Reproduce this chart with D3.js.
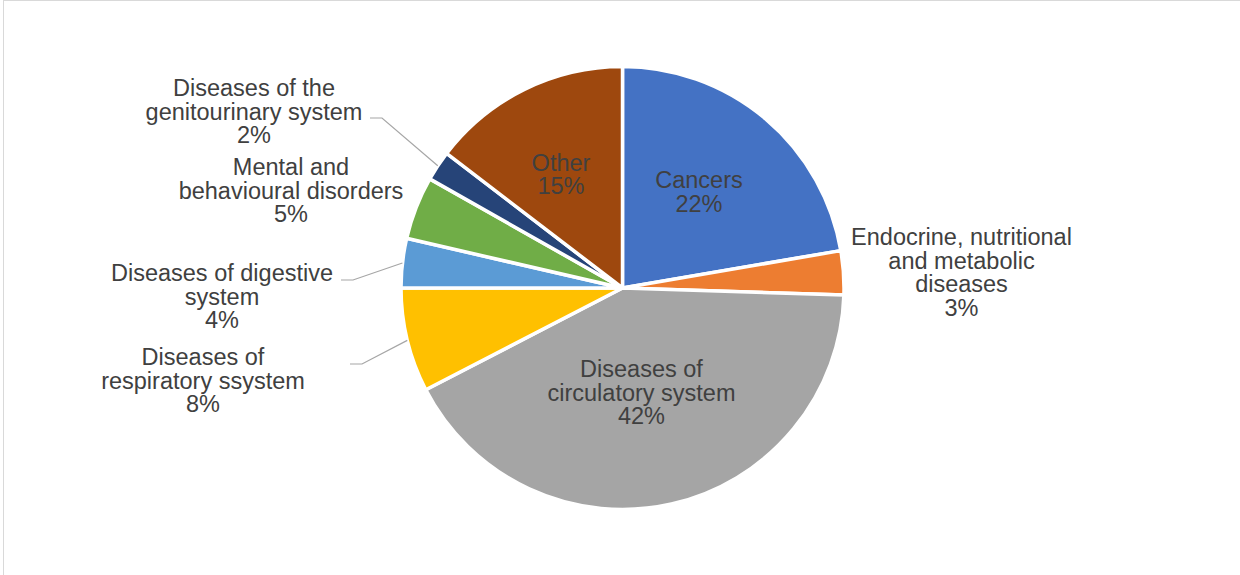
<!DOCTYPE html>
<html>
<head>
<meta charset="utf-8">
<script src="https://cdn.jsdelivr.net/npm/d3@7"></script>
<style>
  html, body { margin: 0; padding: 0; background: #ffffff; }
  svg { display: block; }
  text { font-family: "Liberation Sans", Arial, Helvetica, sans-serif; }
</style>
</head>
<body>
<svg id="chart" width="1240" height="575"></svg>
<script>
// ---- data ----
const categories = [
  "Cancers",
  "Endocrine, nutritional and metabolic diseases",
  "Diseases of circulatory system",
  "Diseases of respiratory ssystem",
  "Diseases of digestive system",
  "Mental and behavioural disorders",
  "Diseases of the genitourinary system",
  "Other"
];
const values = [22.3, 3.2, 41.9, 7.6, 3.6, 4.6, 2.2, 14.6];
const labelLines = [
  ["Cancers"],
  ["Endocrine, nutritional", "and metabolic", "diseases"],
  ["Diseases of", "circulatory system"],
  ["Diseases of", "respiratory ssystem"],
  ["Diseases of digestive", "system"],
  ["Mental and", "behavioural disorders"],
  ["Diseases of the", "genitourinary system"],
  ["Other"]
];
const colors = ["#4472C4", "#ED7D31", "#A5A5A5", "#FFC000", "#5B9BD5", "#70AD47", "#264478", "#9E480E"];

// ---- layout ----
const W = 1240, H = 575;
const cx = 622.5, cy = 288, R = 221.5;
const lineH = 23.5;
// label anchor: center x, first baseline y; optional leader start (x,y)
const labelLayout = [
  { x: 699,   y: 188 },
  { x: 961.5, y: 245 },
  { x: 641.5, y: 377 },
  { x: 203,   y: 365, leader: [350, 364] },
  { x: 222,   y: 281, leader: [341, 280] },
  { x: 291,   y: 175 },
  { x: 254,   y: 96,  leader: [370, 118] },
  { x: 561,   y: 170.5 }
];

const svg = d3.select("#chart");

// outer chart border (light gray, top and left visible)
svg.append("rect")
  .attr("x", 3.5).attr("y", 0.5)
  .attr("width", W + 10).attr("height", H + 10)
  .attr("fill", "none").attr("stroke", "#d9d9d9").attr("stroke-width", 1);

const data = categories.map((c, i) => ({ name: c, value: values[i], i }));

const pie = d3.pie().value(d => d.value).sort(null);
const arcs = pie(data);
const arc = d3.arc().innerRadius(0).outerRadius(R);

const g = svg.append("g").attr("transform", `translate(${cx},${cy})`);

g.selectAll("path.slice")
  .data(arcs)
  .join("path")
  .attr("class", "slice")
  .attr("d", arc)
  .attr("fill", d => colors[d.data.i])
  .attr("stroke", "#ffffff")
  .attr("stroke-width", 3.5)
  .attr("stroke-linejoin", "round");

// leader lines
arcs.forEach(a => {
  const L = labelLayout[a.data.i];
  if (!L.leader) return;
  const mid = (a.startAngle + a.endAngle) / 2;
  const ex = cx + R * Math.sin(mid);
  const ey = cy - R * Math.cos(mid);
  const [sx, sy] = L.leader;
  svg.append("polyline")
    .attr("points", `${sx},${sy} ${sx + 12},${sy} ${ex},${ey}`)
    .attr("fill", "none")
    .attr("stroke", "#a6a6a6")
    .attr("stroke-width", 1.2);
});

// labels
const fmt = v => Math.round(v) + "%";
arcs.forEach(a => {
  const i = a.data.i;
  const L = labelLayout[i];
  const lines = labelLines[i].concat([fmt(a.data.value)]);
  const t = svg.append("text")
    .attr("text-anchor", "middle")
    .attr("font-size", "23.5px")
    .attr("fill", "#404040");
  lines.forEach((ln, k) => {
    t.append("tspan")
      .attr("x", L.x)
      .attr("y", L.y + k * lineH)
      .text(ln);
  });
});
</script>
</body>
</html>
